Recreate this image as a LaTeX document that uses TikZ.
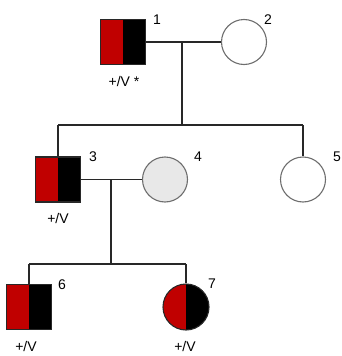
\documentclass[tikz,border=0pt]{standalone}
\usepackage{fontspec}
\setmainfont{Liberation Sans}
\definecolor{pedred}{RGB}{192,0,0}
\definecolor{pedline}{RGB}{40,40,40}
\definecolor{pedgray}{RGB}{232,232,232}
\definecolor{pedrim}{RGB}{110,110,110}
\begin{document}
\begin{tikzpicture}[x=1pt,y=-1pt,
  line width=1.1pt,
  conn/.style={draw=pedline},
  male/.style={rectangle,minimum size=45pt,inner sep=0pt,draw=pedline,
    path picture={
      \fill[pedred] (path picture bounding box.south west) rectangle (path picture bounding box.north);
      \fill[black] (path picture bounding box.south) rectangle (path picture bounding box.north east);}},
  female/.style={circle,minimum size=45pt,inner sep=0pt,draw=pedrim,fill=white},
  femaleaff/.style={circle,minimum size=46pt,inner sep=0pt,draw=pedline,
    path picture={
      \fill[pedred] (path picture bounding box.south west) rectangle (path picture bounding box.north);
      \fill[black] (path picture bounding box.south) rectangle (path picture bounding box.north east);}},
  num/.style={font=\fontsize{14}{16}\selectfont,inner sep=0pt},
  geno/.style={font=\fontsize{14}{16}\selectfont,inner sep=0pt}
]
\useasboundingbox (0,0) rectangle (341,356);
% generation I
\node[male] (s1) at (123,42) {};
\node[female] (c2) at (244,42) {};
% generation II
\node[male] (s3) at (58,179.5) {};
\node[female,fill=pedgray] (c4) at (165,179.5) {};
\node[female] (c5) at (303,179.5) {};
% generation III
\node[male] (s6) at (29,307) {};
\node[femaleaff] (c7) at (186,307) {};
% labels
\node[num] (n1) at (157,20) {1};
\node[num] (n2) at (268,20) {2};
\node[num] (n3) at (93,157) {3};
\node[num] (n4) at (198,157) {4};
\node[num] (n5) at (337,157) {5};
\node[num] (n6) at (62,285) {6};
\node[num] (n7) at (212,283.5) {7};
\node[geno] (g1) at (124,81.5) {+/V *};
\node[geno] (g3) at (58,218) {+/V};
\node[geno] (g6) at (26,346) {+/V};
\node[geno] (g7) at (185,346) {+/V};
% connectors
\coordinate (m12) at (182,42);
\coordinate (sib2L) at (58,125);
\coordinate (sib2M) at (182,125);
\coordinate (sib2R) at (303,125);
\draw[conn] (s1.east) -- (c2.west);
\draw[conn] (m12) -- (sib2M);
\draw[conn] (sib2L) -- (sib2R);
\draw[conn] (sib2L) -- (s3.north);
\draw[conn] (sib2R) -- (c5.north);
\coordinate (m34) at (111,179.5);
\coordinate (sib3L) at (29,264);
\coordinate (sib3M) at (111,264);
\coordinate (sib3R) at (186,264);
\draw[conn] (s3.east) -- (c4.west);
\draw[conn] (m34) -- (sib3M);
\draw[conn] (sib3L) -- (sib3R);
\draw[conn] (sib3L) -- (s6.north);
\draw[conn] (sib3R) -- (c7.north);
\end{tikzpicture}
\end{document}
